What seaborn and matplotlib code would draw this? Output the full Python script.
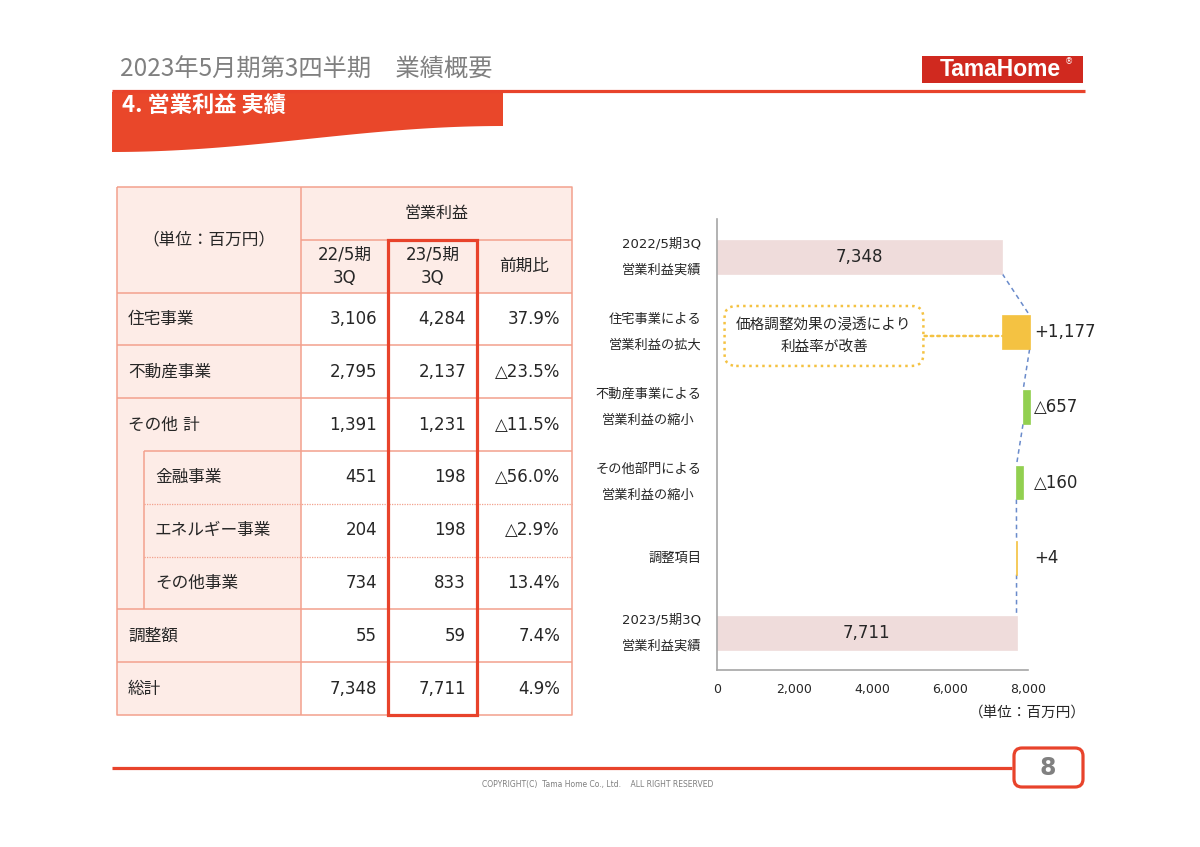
import numpy as np
import pandas as pd
import matplotlib
matplotlib.use("Agg")
import matplotlib.pyplot as plt
import seaborn as sns
from matplotlib.patches import Rectangle, Polygon, FancyBboxPatch
from matplotlib.ticker import FuncFormatter

sns.set_style("white")
plt.rcParams["font.family"] = ["DejaVu Sans", "Noto Sans CJK JP"]

# table data
row_labels = ["住宅事業", "不動産事業", "その他 計", "金融事業", "エネルギー事業", "その他事業", "調整額", "総計"]
row_indent = [0, 0, 0, 1, 1, 1, 0, 0]
op_22 = [3106, 2795, 1391, 451, 204, 734, 55, 7348]
op_23 = [4284, 2137, 1231, 198, 198, 833, 59, 7711]
yoy = ["37.9%", "△23.5%", "△11.5%", "△56.0%", "△2.9%", "13.4%", "7.4%", "4.9%"]

# waterfall data
wf_labels = ["2022/5期3Q\n営業利益実績", "住宅事業による\n営業利益の拡大", "不動産事業による\n営業利益の縮小",
             "その他部門による\n営業利益の縮小", "調整項目", "2023/5期3Q\n営業利益実績"]
wf_kind = ["total", "step", "step", "step", "step", "total"]
# bar lengths as they are drawn in the slide chart
wf_drawn = [7348, 700, -170, -170, 4, 7711]
wf_text = ["7,348", "+1,177", "△657", "△160", "+4", "7,711"]
wf_colors = ["#EFDCDB", "#F4C242", "#92D050", "#92D050", "#F4C242", "#EFDCDB"]
x_ticks = [0, 2000, 4000, 6000, 8000]

RED = "#E8432B"
PINK = "#FDECE7"
GRID = "#F3A18D"
GRAY = "#808080"
JP = ["Noto Sans CJK JP", "DejaVu Sans"]

# running totals for the waterfall
lefts, lengths, levels = [], [], []
level = 0
for kind, v in zip(wf_kind, wf_drawn):
    if kind == "total":
        lefts.append(0)
        lengths.append(v)
        level = v
    else:
        new = level + v
        lefts.append(min(level, new))
        lengths.append(abs(v))
        level = new
    levels.append(level)

df = pd.DataFrame({"item": wf_labels, "length": lengths, "left": lefts})

fig = plt.figure(figsize=(12, 8.47), dpi=100)

# slide background / decorations in pixel coordinates
bg = fig.add_axes([0, 0, 1, 1], zorder=0)
bg.set_xlim(0, 1200)
bg.set_ylim(847, 0)
bg.axis("off")

bg.text(120, 70, "2023年5月期第3四半期　業績概要", fontsize=17.5, color=GRAY,
        family=JP, ha="left", va="center")
bg.plot([112, 1085], [91, 91], color=RED, lw=2.3, solid_capstyle="butt")
xs = np.linspace(112, 503, 60)
wave = 139 + 13 * np.cos(np.pi * (xs - 112) / 391)
banner = np.vstack([[[112, 92], [503, 92]], np.column_stack([xs[::-1], wave[::-1]])])
bg.add_patch(Polygon(banner, closed=True, fc="#E9472A", ec="none"))
bg.text(122, 106, "4. 営業利益 実績", fontsize=16, color="white", weight="bold",
        family=JP, ha="left", va="center")

bg.add_patch(Rectangle((922, 56), 161, 27, fc="#D0291F", ec="none"))
bg.text(1000, 70, "TamaHome", fontsize=16.5, color="white", weight="bold",
        family=["Liberation Sans", "DejaVu Sans"], ha="center", va="center")
bg.text(1069, 62, "®", fontsize=6, color="white", ha="center", va="center")

# footer
bg.plot([112, 1012], [768, 768], color=RED, lw=2.3, solid_capstyle="butt")
bg.add_patch(FancyBboxPatch((1014, 748), 69, 39, boxstyle="round,pad=0,rounding_size=8",
                            fc="white", ec=RED, lw=2.3))
bg.text(1048, 768, "8", fontsize=17, color=GRAY, weight="bold", ha="center", va="center")
bg.text(598, 785, "COPYRIGHT(C)  Tama Home Co., Ltd.    ALL RIGHT RESERVED", fontsize=5.5,
        color="#7F7F7F", ha="center", va="center")

# table
tx = [117, 301, 388, 477, 572]
ty0, rh = 187, 52.8
sub_x = 144
n_rows = len(row_labels)
bottom = ty0 + (n_rows + 2) * rh
bg.add_patch(Rectangle((tx[0], ty0), tx[-1] - tx[0], 2 * rh, fc=PINK, ec="none"))
bg.add_patch(Rectangle((tx[0], ty0), tx[1] - tx[0], (n_rows + 2) * rh, fc=PINK, ec="none"))
lk = dict(color=GRID, lw=1.1, solid_capstyle="butt")
bg.plot([tx[0], tx[-1], tx[-1], tx[0], tx[0]], [ty0, ty0, bottom, bottom, ty0], **lk)
bg.plot([tx[1], tx[1]], [ty0, bottom], **lk)
for x in tx[2:4]:
    bg.plot([x, x], [ty0 + rh, bottom], **lk)
bg.plot([tx[1], tx[-1]], [ty0 + rh, ty0 + rh], **lk)
bg.plot([tx[0], tx[-1]], [ty0 + 2 * rh, ty0 + 2 * rh], **lk)
for i in range(1, n_rows):
    y = ty0 + (2 + i) * rh
    if row_indent[i] and row_indent[i - 1]:
        bg.plot([sub_x, tx[-1]], [y, y], color=GRID, lw=0.9, ls=(0, (1, 1)))
    elif row_indent[i]:
        bg.plot([sub_x, tx[-1]], [y, y], **lk)
    else:
        bg.plot([tx[0], tx[-1]], [y, y], **lk)
sub_rows = [i for i, v in enumerate(row_indent) if v]
bg.plot([sub_x, sub_x], [ty0 + (2 + sub_rows[0]) * rh, ty0 + (3 + sub_rows[-1]) * rh], **lk)

bg.text((tx[0] + tx[1]) / 2, ty0 + rh, "（単位：百万円）", fontsize=12, ha="center", va="center")
bg.text((tx[1] + tx[-1]) / 2, ty0 + rh / 2, "営業利益", fontsize=11.5, ha="center", va="center")
for j, head in enumerate(["22/5期\n3Q", "23/5期\n3Q", "前期比"]):
    bg.text((tx[j + 1] + tx[j + 2]) / 2, ty0 + 1.5 * rh, head, fontsize=12,
            ha="center", va="center", multialignment="center", linespacing=1.45)
for i, lab in enumerate(row_labels):
    yc = ty0 + (2.5 + i) * rh
    bg.text(155 if row_indent[i] else 128, yc, lab, fontsize=12, ha="left", va="center")
    bg.text(tx[2] - 11, yc, f"{op_22[i]:,}", fontsize=12, ha="right", va="center")
    bg.text(tx[3] - 11, yc, f"{op_23[i]:,}", fontsize=12, ha="right", va="center")
    bg.text(tx[4] - 12, yc, yoy[i], fontsize=12, ha="right", va="center")
bg.add_patch(Rectangle((tx[2], ty0 + rh), tx[3] - tx[2], bottom - ty0 - rh,
                       fc="none", ec=RED, lw=2.3, zorder=5))

bg.text(1027, 712, "（単位：百万円）", fontsize=10.5, ha="center", va="center")

# waterfall chart
ax = fig.add_axes([0.5972, 0.2084, 0.2625, 0.5325], zorder=1)
ax.set_facecolor("none")
sns.barplot(data=df, x="length", y="item", hue="item", order=wf_labels, hue_order=wf_labels,
            palette=dict(zip(wf_labels, wf_colors)), saturation=1, width=0.45,
            legend=False, ax=ax)
bars = sorted(ax.patches, key=lambda p: p.get_y())
for p, left in zip(bars, lefts):
    p.set_x(left)
    p.set_edgecolor(p.get_facecolor())
    p.set_linewidth(0.5)

half = 0.225
for i in range(len(levels) - 1):
    ax.plot([levels[i], levels[i + 1]], [i + half, i + 1 - half], color="#6A8BCB",
            lw=1.1, ls=(0, (3, 2.5)), zorder=0.5)

step_right = max(l + w for l, w, k in zip(lefts, lengths, wf_kind) if k == "step")
for i, (txt, kind) in enumerate(zip(wf_text, wf_kind)):
    if kind == "total":
        ax.text(lengths[i] / 2, i, txt, fontsize=12, ha="center", va="center")
    else:
        ax.annotate(txt, xy=(step_right, i), xytext=(3, 0), textcoords="offset points",
                    fontsize=12, ha="left", va="center")

ax.annotate("価格調整効果の浸透により\n利益率が改善", xy=(lefts[1], 1.05), xytext=(2760, 1.05),
            fontsize=10.5, ha="center", va="center", multialignment="center", linespacing=1.55,
            bbox=dict(boxstyle="round,pad=0.8", fc="white", ec="#F4C242", lw=1.8, ls=(0, (1, 1.6))),
            arrowprops=dict(arrowstyle="-", color="#F4C242", lw=1.8, ls=(0, (1, 1.6)),
                            shrinkA=0, shrinkB=0))

ax.set_xlim(0, 8100)
ax.set_ylim(len(wf_labels) - 0.5, -0.5)
ax.set_xticks(x_ticks)
ax.xaxis.set_major_formatter(FuncFormatter(lambda v, _: f"{int(v):,}"))
ax.set_xlabel("")
ax.set_ylabel("")
sns.despine(ax=ax)
ax.spines["bottom"].set_bounds(0, 8000)
for s in ["left", "bottom"]:
    ax.spines[s].set_color("#A6A6A6")
    ax.spines[s].set_linewidth(1.2)
ax.tick_params(axis="x", length=0, pad=9, labelsize=9)
ax.tick_params(axis="y", length=0, pad=11, labelsize=9.5)
for t in ax.get_yticklabels():
    t.set_multialignment("center")
    t.set_linespacing(2.3)
    t.set_verticalalignment("center")

fig.savefig("out.png", dpi=100)
